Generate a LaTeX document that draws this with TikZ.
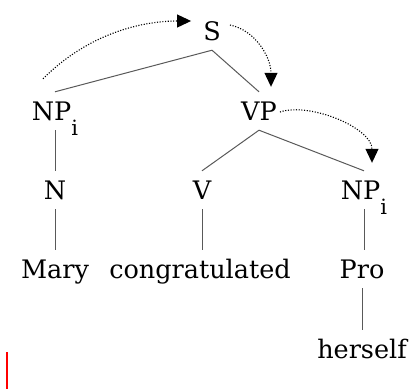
\documentclass[tikz,border=0pt]{standalone}
\usepackage{fontspec}
\setmainfont{DejaVu Serif}
\usetikzlibrary{arrows.meta}

\newcommand{\idx}{\smash{\raisebox{-15pt}{\fontsize{21}{21}\selectfont i}}}

\begin{document}
\begin{tikzpicture}[x=1pt, y=-1pt, >={Triangle[length=14pt,width=13pt]},
    cat/.style={anchor=base, font=\fontsize{25.5}{30}\selectfont, text height=18pt, text depth=0pt, inner xsep=1pt, inner ysep=10pt},
    branch/.style={draw=gray!70!black, line width=1pt},
    link/.style={->, line width=1.1pt, dash pattern=on 1.1pt off 1.6pt}]
    \useasboundingbox (0,0) rectangle (410,389);

    % Tree
    \node[cat] (s) at (212,40) {S};
    \node[cat] (np) at (55,120) {NP\idx};
    \node[cat] (vp) at (259,120) {VP};
    \node[cat] (n) at (55,199) {N};
    \node[cat] (v) at (202,199) {V};
    \node[cat] (npi) at (364,199) {NP\idx};
    \node[cat] (mary) at (55,278) {Mary};
    \node[cat] (cong) at (200,278) {congratulated};
    \node[cat] (pro) at (362,278) {Pro};
    \node[cat] (herself) at (362,358) {herself};

    \draw[branch] (s.south) -- (np.north);
    \draw[branch] (s.south) -- (vp.north);
    \draw[branch] (np.south) -- (n.north);
    \draw[branch] (vp.south) -- (v.north);
    \draw[branch] (vp.south) -- (npi.north);
    \draw[branch] (n.south) -- (mary.north);
    \draw[branch] (v.south) -- (v.south |- cong.north);
    \draw[branch] (npi.south) -- (npi.south |- pro.north);
    \draw[branch] (pro.south) -- (herself.north);

    % Dotted arrows
    \draw[link] ([shift={(-12,-13)}]np.north) .. controls +(45,-45) and +(-50,0) .. ([shift={(-11,-10)}]s.west);
    \draw[link] ([shift={(8,-6)}]s.east) .. controls +(25,5) and +(0,-30) .. ([shift={(12,-5)}]vp.north);
    \draw[link] ([shift={(2,1)}]vp.east) .. controls +(30,-10) and +(0,-35) .. ([shift={(8,-8)}]npi.north);

    % Cursor mark
    \draw[red, line width=1.5pt] (7,352) -- (7,389);
\end{tikzpicture}
\end{document}
